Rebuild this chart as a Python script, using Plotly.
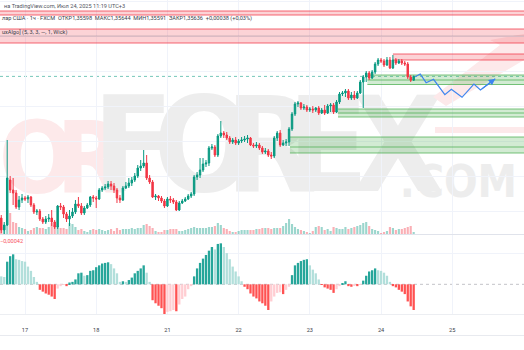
import plotly.graph_objects as go

# ---------------- data (GBP/USD, 1h, FXCM) ----------------
idx = list(range(-8, 132))  # hourly bars, 0 = Jul 17 00:00 (trading time)

open_ = [1.3422, 1.3410, 1.3415, 1.3460, 1.3450, 1.3447, 1.3433, 1.3440, 1.3442, 1.3441,
         1.3443, 1.3435, 1.3428, 1.3429, 1.3421, 1.3418, 1.3421, 1.3422, 1.3418, 1.3413,
         1.3434, 1.3433, 1.3426, 1.3421, 1.3424, 1.3428, 1.3436, 1.3434, 1.3427, 1.3432,
         1.3435, 1.3443, 1.3442, 1.3441, 1.3450, 1.3452, 1.3453, 1.3456, 1.3454, 1.3450,
         1.3442, 1.3440, 1.3452, 1.3454, 1.3457, 1.3460, 1.3464, 1.3472, 1.3474, 1.3477,
         1.3462, 1.3458, 1.3443, 1.3444, 1.3442, 1.3439, 1.3434, 1.3441, 1.3440, 1.3438,
         1.3430, 1.3437, 1.3439, 1.3441, 1.3444, 1.3446, 1.3463, 1.3465, 1.3470, 1.3476,
         1.3477, 1.3492, 1.3493, 1.3485, 1.3504, 1.3507, 1.3505, 1.3502, 1.3498, 1.3500,
         1.3497, 1.3499, 1.3500, 1.3501, 1.3502, 1.3495, 1.3494, 1.3495, 1.3492, 1.3488,
         1.3489, 1.3485, 1.3484, 1.3502, 1.3507, 1.3495, 1.3497, 1.3498, 1.3511, 1.3526,
         1.3536, 1.3537, 1.3532, 1.3533, 1.3530, 1.3531, 1.3530, 1.3532, 1.3527, 1.3530,
         1.3527, 1.3534, 1.3535, 1.3528, 1.3538, 1.3546, 1.3547, 1.3549, 1.3542, 1.3545,
         1.3542, 1.3547, 1.3558, 1.3563, 1.3567, 1.3562, 1.3568, 1.3576, 1.3580, 1.3579,
         1.3575, 1.3580, 1.3572, 1.3580, 1.3577, 1.3579, 1.3577, 1.3576, 1.3563, 1.35598]

high = [1.3425, 1.3418, 1.3500, 1.3464, 1.3462, 1.3450, 1.3444, 1.3446, 1.3444, 1.3445,
        1.3444, 1.3437, 1.3431, 1.3431, 1.3423, 1.3424, 1.3426, 1.3430, 1.3420, 1.3435,
        1.3437, 1.3435, 1.3428, 1.3430, 1.3432, 1.3440, 1.3443, 1.3437, 1.3434, 1.3437,
        1.3444, 1.3445, 1.3444, 1.3452, 1.3454, 1.3456, 1.3459, 1.3459, 1.3457, 1.3452,
        1.3445, 1.3454, 1.3458, 1.3462, 1.3463, 1.3467, 1.3475, 1.3480, 1.3490, 1.3485,
        1.3465, 1.3460, 1.3446, 1.3445, 1.3444, 1.3441, 1.3443, 1.3444, 1.3442, 1.3440,
        1.3439, 1.3441, 1.3443, 1.3446, 1.3448, 1.3465, 1.3468, 1.3482, 1.3482, 1.3480,
        1.3494, 1.3496, 1.3495, 1.3506, 1.3519, 1.3509, 1.3508, 1.3504, 1.3502, 1.3503,
        1.3501, 1.3503, 1.3504, 1.3505, 1.3503, 1.3497, 1.3498, 1.3497, 1.3494, 1.3492,
        1.3491, 1.3488, 1.3504, 1.3509, 1.3510, 1.3500, 1.3501, 1.3513, 1.3528, 1.3538,
        1.3539, 1.3538, 1.3536, 1.3535, 1.3533, 1.3534, 1.3533, 1.3534, 1.3532, 1.3535,
        1.3536, 1.3537, 1.3537, 1.3540, 1.3548, 1.3549, 1.3551, 1.3551, 1.3548, 1.3549,
        1.3549, 1.3560, 1.3565, 1.3569, 1.3569, 1.3570, 1.3578, 1.3582, 1.3582, 1.3581,
        1.3583, 1.3583, 1.3585, 1.3582, 1.3581, 1.3581, 1.3579, 1.3578, 1.3565, 1.35644]

low = [1.3407, 1.3406, 1.3414, 1.3447, 1.3435, 1.3431, 1.3430, 1.3437, 1.3439, 1.3437,
       1.3433, 1.3426, 1.3425, 1.3419, 1.3416, 1.3416, 1.3418, 1.3414, 1.3411, 1.3411,
       1.3430, 1.3422, 1.3418, 1.3414, 1.3422, 1.3426, 1.3432, 1.3425, 1.3425, 1.3431,
       1.3433, 1.3438, 1.3432, 1.3440, 1.3448, 1.3450, 1.3451, 1.3450, 1.3447, 1.3437,
       1.3437, 1.3439, 1.3451, 1.3452, 1.3454, 1.3458, 1.3462, 1.3469, 1.3472, 1.3460,
       1.3456, 1.3442, 1.3440, 1.3439, 1.3437, 1.3432, 1.3433, 1.3437, 1.3436, 1.3429,
       1.3429, 1.3436, 1.3438, 1.3440, 1.3442, 1.3444, 1.3460, 1.3462, 1.3468, 1.3473,
       1.3474, 1.3490, 1.3483, 1.3483, 1.3502, 1.3502, 1.3500, 1.3496, 1.3496, 1.3495,
       1.3495, 1.3497, 1.3498, 1.3497, 1.3494, 1.3492, 1.3492, 1.3490, 1.3486, 1.3486,
       1.3483, 1.3481, 1.3482, 1.3499, 1.3493, 1.3494, 1.3494, 1.3494, 1.3509, 1.3524,
       1.3533, 1.3530, 1.3530, 1.3528, 1.3528, 1.3527, 1.3528, 1.3525, 1.3526, 1.3525,
       1.3526, 1.3528, 1.3526, 1.3527, 1.3536, 1.3544, 1.3543, 1.3540, 1.3540, 1.3540,
       1.3541, 1.3546, 1.3532, 1.3558, 1.3560, 1.3561, 1.3566, 1.3574, 1.3577, 1.3573,
       1.3574, 1.3571, 1.3571, 1.3575, 1.3576, 1.3575, 1.3574, 1.3561, 1.3558, 1.35591]

close = [1.3410, 1.3415, 1.3462, 1.3450, 1.3447, 1.3433, 1.3440, 1.3442, 1.3441, 1.3443,
         1.3435, 1.3428, 1.3429, 1.3421, 1.3418, 1.3421, 1.3422, 1.3418, 1.3413, 1.3434,
         1.3433, 1.3426, 1.3421, 1.3424, 1.3428, 1.3436, 1.3434, 1.3427, 1.3432, 1.3435,
         1.3443, 1.3442, 1.3441, 1.3450, 1.3452, 1.3453, 1.3456, 1.3454, 1.3450, 1.3442,
         1.3440, 1.3452, 1.3454, 1.3457, 1.3460, 1.3464, 1.3472, 1.3474, 1.3477, 1.3462,
         1.3458, 1.3443, 1.3444, 1.3442, 1.3439, 1.3434, 1.3441, 1.3440, 1.3438, 1.3430,
         1.3437, 1.3439, 1.3441, 1.3444, 1.3446, 1.3463, 1.3465, 1.3470, 1.3476, 1.3477,
         1.3492, 1.3493, 1.3485, 1.3504, 1.3507, 1.3505, 1.3502, 1.3498, 1.3500, 1.3497,
         1.3499, 1.3500, 1.3501, 1.3502, 1.3495, 1.3494, 1.3495, 1.3492, 1.3488, 1.3489,
         1.3485, 1.3484, 1.3502, 1.3507, 1.3495, 1.3497, 1.3498, 1.3511, 1.3526, 1.3536,
         1.3537, 1.3532, 1.3533, 1.3530, 1.3531, 1.3530, 1.3532, 1.3527, 1.3530, 1.3527,
         1.3534, 1.3535, 1.3528, 1.3538, 1.3546, 1.3547, 1.3549, 1.3542, 1.3545, 1.3542,
         1.3547, 1.3558, 1.3563, 1.3567, 1.3562, 1.3568, 1.3576, 1.3580, 1.3579, 1.3575,
         1.3580, 1.3572, 1.3580, 1.3577, 1.3579, 1.3577, 1.3576, 1.3563, 1.35598, 1.35636]

volume_k = [7, 9, 24, 21, 12, 11, 7, 6, 5, 3, 4, 6, 7, 6, 6, 5, 7, 11, 9, 8,
            6, 6, 5, 11, 10, 7, 4, 5, 3, 2, 4, 5, 4, 5, 4, 3, 4, 5, 3, 6,
            4, 5, 5, 5, 6, 5, 6, 6, 9, 10, 8, 6, 3, 2, 2, 4, 4, 5, 5, 5,
            3, 3, 4, 5, 6, 7, 6, 6, 6, 6, 7, 7, 8, 11, 9, 6, 5, 3, 2, 2,
            3, 4, 4, 4, 4, 4, 5, 5, 6, 6, 6, 5, 6, 6, 6, 8, 11, 15, 10, 7,
            5, 4, 3, 2, 1, 3, 7, 8, 7, 4, 5, 3, 7, 6, 5, 5, 7, 5, 6, 7,
            8, 9, 11, 12, 8, 5, 4, 3, 1, 2, 3, 7, 6, 4, 5, 5, 6, 7, 8, 2]

# momentum histogram, in points (1e-5)
momentum_pts = [13, 12, 37, 46, 49, 41, 40, 38, 37, 29, 22, 12, 4, -9, -12, -15, -17, -20, -24, -7,
                -3, -1, -3, 3, 4, 8, 18, 19, 14, 15, 22, 23, 28, 31, 34, 35, 36, 33, 26, 18,
                4, 5, 4, 7, 11, 18, 22, 26, 31, 19, 4, -26, -31, -35, -39, -50, -45, -44, -42, -44,
                -33, -24, -20, -8, -3, 13, 26, 35, 42, 48, 55, 61, 57, 66, 67, 61, 51, 41, 29, 21,
                13, 5, -4, -8, -15, -20, -23, -28, -31, -35, -42, -28, -20, -14, -13, -16, -9, -4, 15, 31,
                35, 38, 40, 41, 31, 24, 18, 8, -1, -5, -7, -9, -14, -8, -3, 2, 5, -3, -4, -2,
                -3, -1, 6, 14, 21, 23, 26, 23, 22, 19, 14, 4, -3, -5, -9, -12, -16, -28, -36, -42]

day_ticks = [0, 24, 48, 72, 96, 120, 144, 168]
day_labels = ["17", "18", "21", "22", "23", "24", "25", "26"]

# order-block zones: start bar, top, mid, bottom, kind
zone_start = [-20, -20, 124, 115.4, 105.5, 89.3]
zone_top = [1.3629, 1.3611, 1.3586, 1.3565, 1.3531, 1.3503]
zone_mid = [None, 1.3604, None, 1.3560, 1.3527, 1.3493]
zone_bottom = [1.3625, 1.3597, 1.3580, 1.35555, 1.3523, 1.3487]
zone_kind = ["bear", "bear", "bear", "bull", "bull", "bull"]

# projected path drawing
proj_x = [131.5, 133.2, 135.2, 137.7, 141.5, 143.7, 147.3, 151.3, 153.5, 158.5]
proj_price = [1.35633, 1.3566, 1.35573, 1.35607, 1.35453, 1.35507, 1.35427, 1.3556, 1.3550, 1.35613]

last_close = 1.35636
osc_label = "\u22120,00042"

# ---------------- figure ----------------
W, H = 524, 350
PLOT_H = 314
def PX(x):
    return x / W
def PY(y):
    return (PLOT_H - y) / PLOT_H

UP, DN = "#089981", "#f23645"
fig = go.Figure()

vol_colors = ["rgba(8,153,129,0.40)" if c >= o else "rgba(242,54,69,0.40)" for o, c in zip(open_, close)]
fig.add_trace(go.Bar(x=idx, y=volume_k, marker=dict(color=vol_colors, line=dict(width=0)),
                     width=0.72, yaxis="y2", hoverinfo="skip"))

fig.add_trace(go.Candlestick(x=idx, open=open_, high=high, low=low, close=close,
                             increasing=dict(line=dict(color=UP, width=1), fillcolor=UP),
                             decreasing=dict(line=dict(color=DN, width=1), fillcolor=DN),
                             whiskerwidth=0, hoverinfo="skip"))

fig.add_trace(go.Scatter(x=proj_x, y=proj_price, mode="lines",
                         line=dict(color="#3d85f0", width=1.2), hoverinfo="skip"))

mom_colors = []
prev = None
for v in momentum_pts:
    rising = prev is not None and v > prev
    if v >= 0:
        mom_colors.append("#26a69a" if rising else "#b2dfdb")
    else:
        mom_colors.append("#ffcdd2" if rising else "#ff5252")
    prev = v
fig.add_trace(go.Bar(x=idx, y=momentum_pts, marker=dict(color=mom_colors, line=dict(width=0)),
                     width=0.78, yaxis="y3", hoverinfo="skip"))

shapes = []
# watermark graphics (behind everything)
wm_gray, wm_red = "#ededed", "#fde9ea"
WM_FONT = "Liberation Sans Narrow, DejaVu Sans Condensed, sans-serif"
def wm_letter(txt, cx, cy, size, color, pos="middle center", half=60):
    shapes.append(dict(type="rect", xref="paper", yref="paper",
                       x0=PX(cx - half), x1=PX(cx + half), y0=PY(cy + 70), y1=PY(cy - 70),
                       line=dict(width=0), fillcolor="rgba(0,0,0,0)", layer="below",
                       label=dict(text=txt, textposition=pos,
                                  font=dict(size=size, color=color, weight=700, family=WM_FONT))))
for t, cx in [("O", 37), ("R", 91)]:
    wm_letter(t, cx, 151, 100, wm_red)
for t, cx in [("F", 133), ("O", 204), ("R", 271), ("E", 328), ("X", 398)]:
    wm_letter(t, cx, 136, 132, wm_gray)
wm_letter(".COM", 523, 178, 44, wm_gray, pos="middle right", half=0.01)
shapes.append(dict(type="rect", xref="paper", yref="paper", x0=PX(435), x1=PX(524),
                   y0=PY(133), y1=PY(127), line=dict(width=0), fillcolor=wm_red, layer="below"))
shapes.append(dict(type="path", xref="paper", yref="paper", layer="below", line=dict(width=0),
                   fillcolor=wm_red,
                   path="M {} {} L {} {} L {} {} L {} {} L {} {} L {} {} Z".format(
                       PX(433), PY(97), PX(500), PY(45), PX(490), PY(40), PX(524), PY(34),
                       PX(524), PY(60), PX(446), PY(106))))

# order-block zones
for s, t, m, b, k in zip(zone_start, zone_top, zone_mid, zone_bottom, zone_kind):
    fill = "rgba(242,54,69,0.22)" if k == "bear" else "rgba(76,175,80,0.25)"
    edge = "rgba(242,54,69,0.75)" if k == "bear" else "rgba(76,175,80,0.75)"
    shapes.append(dict(type="rect", xref="x", yref="y", x0=s, x1=180, y0=b, y1=t,
                       fillcolor=fill, line=dict(width=0), layer="between"))
    for lv in (t, b):
        shapes.append(dict(type="line", xref="x", yref="y", x0=s, x1=180, y0=lv, y1=lv,
                           line=dict(color=edge, width=1), layer="between"))
    if m is not None:
        shapes.append(dict(type="line", xref="x", yref="y", x0=s, x1=180, y0=m, y1=m,
                           line=dict(color="rgba(120,123,134,0.35)" if k == "bear" else edge, width=1),
                           layer="between"))

# current price line
shapes.append(dict(type="line", xref="paper", yref="y", x0=0, x1=1, y0=last_close, y1=last_close,
                   line=dict(color="rgba(8,153,129,0.55)", width=1, dash="3px,3px"), layer="between"))
# zero line of oscillator
shapes.append(dict(type="line", xref="paper", yref="y3", x0=0, x1=1, y0=0, y1=0,
                   line=dict(color="rgba(120,123,134,0.45)", width=1, dash="3px,3px"), layer="between"))
# pane separator and bottom line
shapes.append(dict(type="line", xref="paper", yref="paper", x0=0, x1=1, y0=PY(234.5), y1=PY(234.5),
                   line=dict(color="#e0e3eb", width=1.2)))
shapes.append(dict(type="line", xref="paper", yref="paper", x0=0, x1=1, y0=PY(335.5), y1=PY(335.5),
                   line=dict(color="#e8eaef", width=1)))

ann = []
txt_font = dict(family="Roboto, Inter, sans-serif", size=5.6, color="#3a3e4a")
ann.append(dict(xref="paper", yref="paper", x=PX(1.5), y=PY(5.5), xanchor="left", yanchor="middle",
                text="на TradingView.com, Июл 24, 2025 11:19 UTC+3", showarrow=False,
                font=dict(family="Roboto, Inter, sans-serif", size=5.6, color="#50535e")))
ann.append(dict(xref="paper", yref="paper", x=PX(-0.5), y=PY(18.5), xanchor="left", yanchor="middle",
                text="лар США · 1ч · FXCM  ОТКР1,35598  МАКС1,35644  МИН1,35591  ЗАКР1,35636  +0,00038 (+0,03%)",
                showarrow=False, font=txt_font))
ann.append(dict(xref="paper", yref="paper", x=PX(-0.5), y=PY(32.5), xanchor="left", yanchor="middle",
                text="uxAlgo] (5, 3, 3, —, 1, Wick)", showarrow=False, font=txt_font))
ann.append(dict(xref="paper", yref="paper", x=PX(25), y=PY(240.5), xanchor="right", yanchor="middle",
                text=osc_label, showarrow=False,
                font=dict(family="Roboto, Inter, sans-serif", size=5.6, color="#f7525f")))
ann.append(dict(x=proj_x[-1], y=proj_price[-1], ax=proj_x[-2], ay=proj_price[-2], xref="x", yref="y",
                axref="x", ayref="y", showarrow=True, arrowhead=2, arrowsize=1.1, arrowwidth=1.2,
                arrowcolor="#3d85f0", text=""))

grid = "#f0f3fa"
fig.update_layout(
    width=W, height=H, margin=dict(l=0, r=0, t=0, b=H - PLOT_H),
    paper_bgcolor="white", plot_bgcolor="white", showlegend=False, barmode="overlay",
    shapes=shapes, annotations=ann,
    xaxis=dict(range=[-25 / 2.967, 499 / 2.967], tickvals=day_ticks, ticktext=day_labels,
               showgrid=True, gridcolor=grid, gridwidth=1, zeroline=False, anchor="y3",
               ticks="outside", ticklen=10, tickcolor="rgba(0,0,0,0)",
               tickfont=dict(family="Roboto, Inter, sans-serif", size=5.6, color="#3a3e4a"),
               showline=True, linecolor="#eceef2", linewidth=1, rangeslider=dict(visible=False),
               fixedrange=True),
    yaxis=dict(domain=[80 / PLOT_H, 1], range=[1.3640 - 234 * 0.0001, 1.3640],
               tickvals=[1.36387, 1.36037, 1.35687, 1.35337, 1.34987, 1.34637, 1.34287],
               showticklabels=False, showgrid=True, gridcolor=grid, zeroline=False),
    yaxis2=dict(domain=[80 / PLOT_H, 1], range=[0, 234], overlaying="y", showgrid=False,
                showticklabels=False, zeroline=False),
    yaxis3=dict(domain=[0, 79 / PLOT_H], range=[-48.5, 80.6], tickvals=[51],
                showticklabels=False, showgrid=True, gridcolor=grid, zeroline=False),
)

fig.write_html("out.html")
